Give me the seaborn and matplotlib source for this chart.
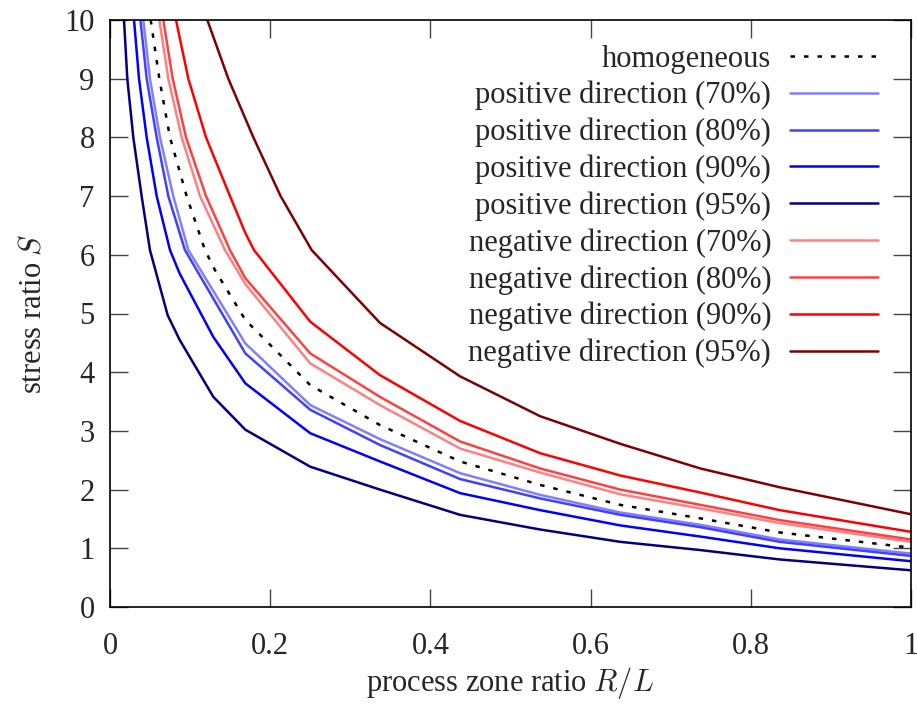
import numpy as np
import pandas as pd
import matplotlib
matplotlib.use("Agg")
import matplotlib.pyplot as plt
import seaborn as sns

# --- data (x = R/L, y = S) ---
hom_x = [0.0508, 0.0616, 0.0749, 0.0957, 0.1186, 0.131, 0.169, 0.25, 0.337, 0.437, 0.537, 0.637, 0.737, 0.836, 1.0]
hom_s = [10.0, 9.0, 8.0, 7.0, 6.08, 5.74, 4.89, 3.78, 3.10, 2.48, 2.08, 1.74, 1.51, 1.27, 1.01]

pos70_x = [0.0416, 0.0499, 0.0624, 0.079, 0.0978, 0.169, 0.25, 0.337, 0.437, 0.537, 0.637, 0.737, 0.836, 1.0]
pos70_s = [10.0, 9.0, 8.0, 7.0, 6.08, 4.49, 3.44, 2.86, 2.28, 1.91, 1.61, 1.40, 1.15, 0.91]

pos80_x = [0.038, 0.0458, 0.0583, 0.0728, 0.0936, 0.169, 0.25, 0.337, 0.437, 0.537, 0.637, 0.737, 0.836, 1.0]
pos80_s = [10.0, 9.0, 8.0, 7.0, 6.08, 4.32, 3.36, 2.76, 2.18, 1.85, 1.57, 1.36, 1.11, 0.87]

pos90_x = [0.030, 0.0362, 0.0458, 0.0583, 0.0749, 0.087, 0.129, 0.169, 0.25, 0.337, 0.437, 0.537, 0.637, 0.737, 0.836, 1.0]
pos90_s = [10.0, 9.0, 8.0, 7.0, 6.08, 5.68, 4.6, 3.81, 2.96, 2.48, 1.94, 1.65, 1.39, 1.20, 1.0, 0.78]

pos95_x = [0.0175, 0.0216, 0.0291, 0.0395, 0.0499, 0.072, 0.087, 0.129, 0.169, 0.25, 0.337, 0.437, 0.537, 0.637, 0.737, 0.836, 1.0]
pos95_s = [10.0, 9.0, 8.0, 7.0, 6.08, 4.97, 4.55, 3.58, 3.02, 2.39, 2.0, 1.57, 1.32, 1.11, 0.97, 0.81, 0.625]

neg70_x = [0.0616, 0.0728, 0.0895, 0.1124, 0.1436, 0.169, 0.25, 0.337, 0.437, 0.537, 0.637, 0.737, 0.836, 1.0]
neg70_s = [10.0, 9.0, 8.0, 7.0, 6.08, 5.5, 4.15, 3.44, 2.70, 2.29, 1.92, 1.68, 1.43, 1.11]

neg80_x = [0.0666, 0.0783, 0.0949, 0.1199, 0.1498, 0.169, 0.25, 0.337, 0.437, 0.537, 0.637, 0.737, 0.836, 1.0]
neg80_s = [10.0, 9.0, 8.0, 7.0, 6.08, 5.6, 4.32, 3.58, 2.82, 2.36, 2.0, 1.74, 1.48, 1.15]

neg90_x = [0.0824, 0.0978, 0.1199, 0.1498, 0.169, 0.1798, 0.25, 0.337, 0.437, 0.537, 0.637, 0.737, 0.836, 1.0]
neg90_s = [10.0, 9.0, 8.0, 7.0, 6.37, 6.08, 4.86, 3.95, 3.17, 2.62, 2.24, 1.95, 1.65, 1.28]

neg95_x = [0.1215, 0.1477, 0.179, 0.213, 0.2518, 0.337, 0.437, 0.537, 0.637, 0.737, 0.836, 1.0]
neg95_s = [10.0, 9.0, 8.0, 7.0, 6.08, 4.84, 3.93, 3.25, 2.78, 2.36, 2.04, 1.58]

series = [
    ("homogeneous", hom_x, hom_s, "black", (0, (1.8, 3.6))),
    ("positive direction (70%)", pos70_x, pos70_s, "#8080ff", "-"),
    ("positive direction (80%)", pos80_x, pos80_s, "#4040ff", "-"),
    ("positive direction (90%)", pos90_x, pos90_s, "#0000ff", "-"),
    ("positive direction (95%)", pos95_x, pos95_s, "#000080", "-"),
    ("negative direction (70%)", neg70_x, neg70_s, "#ff8080", "-"),
    ("negative direction (80%)", neg80_x, neg80_s, "#ff4040", "-"),
    ("negative direction (90%)", neg90_x, neg90_s, "#ff0000", "-"),
    ("negative direction (95%)", neg95_x, neg95_s, "#800000", "-"),
]

sns.set_style("ticks")
plt.rcParams['font.family'] = ['Liberation Serif', 'DejaVu Serif']
plt.rcParams['mathtext.fontset'] = 'cm'

fig = plt.figure(figsize=(9.17, 7.06), dpi=100)
ax = fig.add_axes([110 / 917, 1 - 607 / 706, 801 / 917, 587 / 706])

for name, xs, ss, col, ls in series:
    df = pd.DataFrame({'x': xs, 'S': ss})
    sns.lineplot(data=df, x='x', y='S', ax=ax, color=col, linestyle=ls,
                 linewidth=1.8, label=name, estimator=None, sort=True)

ax.set_xlim(0, 1)
ax.set_ylim(0, 10)
ax.set_xticks([0, 0.2, 0.4, 0.6, 0.8, 1])
ax.set_xticklabels(['0', '0.2', '0.4', '0.6', '0.8', '1'])
ax.set_yticks(range(0, 11))
ax.tick_params(direction='in', top=True, right=True, length=13, width=1,
               labelsize=22, color='#444444')
ax.tick_params(axis='x', pad=18)
ax.tick_params(axis='y', pad=11)
for sp in ax.spines.values():
    sp.set_linewidth(1.2)
    sp.set_color('black')

ax.set_xlabel('process zone ratio $R/L$', fontsize=22, labelpad=3)
ax.set_ylabel('stress ratio $S$', fontsize=22, labelpad=12)

leg = ax.legend(loc='upper right', bbox_to_anchor=(0.959, 0.958), frameon=False,
                markerfirst=False, fontsize=22, handlelength=2.9, handletextpad=0.6,
                labelspacing=0.24, borderpad=0, borderaxespad=0)

fig.savefig('out.png', dpi=100)
